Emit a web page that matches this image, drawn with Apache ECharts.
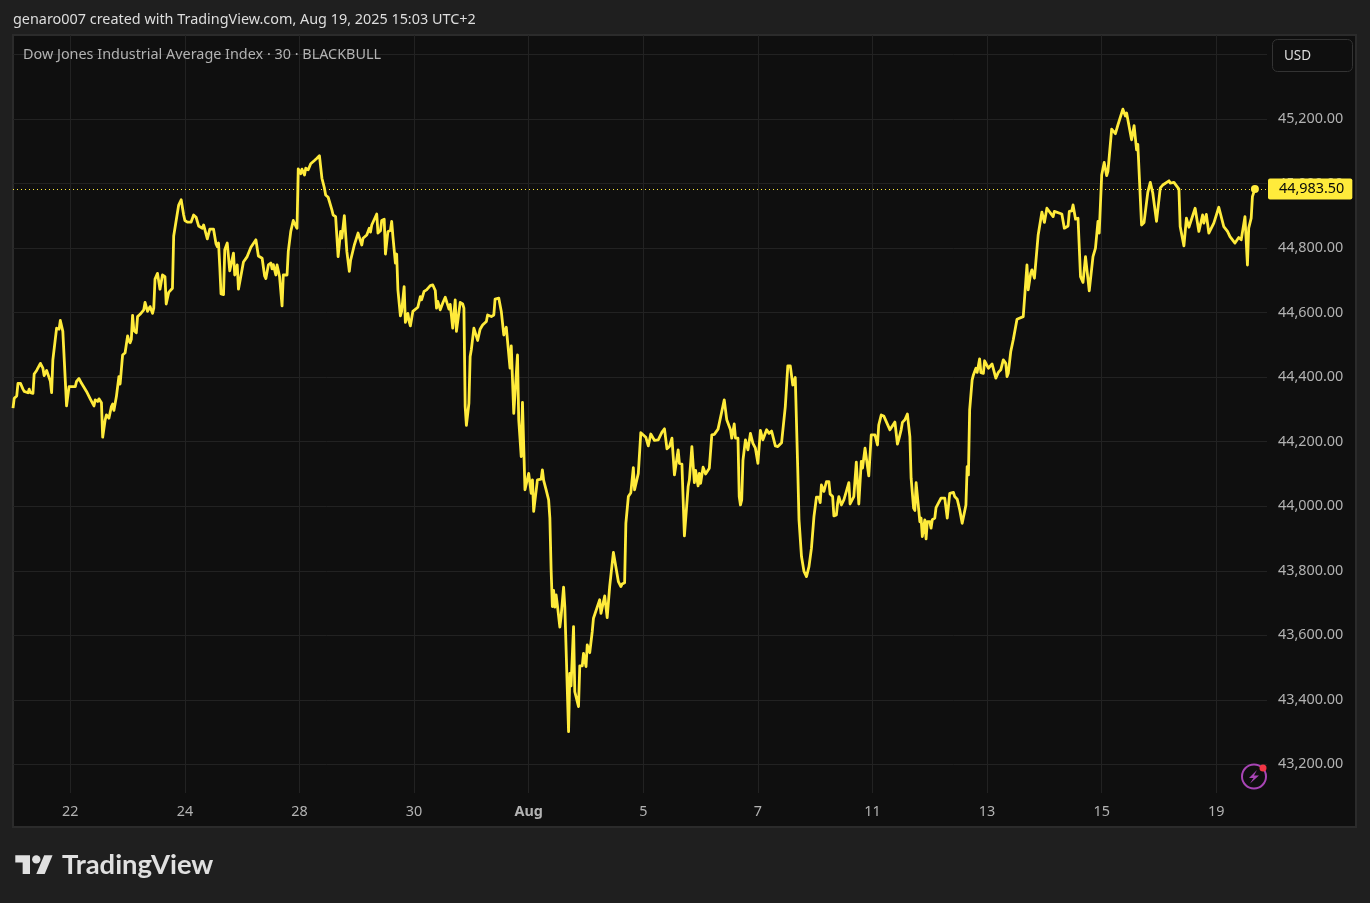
<!DOCTYPE html>
<html>
<head>
<meta charset="utf-8">
<title>Dow Jones Industrial Average Index</title>
<style>
  html,body{margin:0;padding:0;background:#1f1f1f;}
  #chart{width:1370px;height:903px;}
</style>
<script src="https://cdn.jsdelivr.net/npm/echarts@6/dist/echarts.min.js"></script>
</head>
<body>
<div id="chart"></div>
<script>
// 30 minute bars, counted from the left edge of the chart
var bars=[0,1,3,4,6,8,9,10,12,13,14,16,17,19,22,24,25,27,28,30,31,32,35,37,38,40,41,43,45,46,50,51,53,55,56,59,62,63,65,66,68,69,71,72,74,75,77,79,80,81,83,85,86,87,88,90,92,93,94,95,96,97,98,99,100,102,103,105,106,107,108,110,112,113,114,116,118,120,122,123,125,128,129,130,133,135,137,138,140,143,145,147,149,150,152,153,156,158,161,163,164,165,166,167,169,170,172,174,177,178,180,181,182,185,186,188,191,195,197,200,202,203,205,207,208,209,211,212,214,216,217,220,221,223,225,227,228,229,231,232,234,235,237,239,242,244,246,248,250,251,253,256,257,259,261,263,264,266,268,270,271,272,274,277,280,281,284,286,287,288,292,293,295,296,298,299,300,301,303,304,305,306,307,308,309,311,312,314,315,317,318,319,321,325,
327,328,330,332,335,337,339,340,341,343,345,347,348,350,351,353,355,356,357,359,361,362,363,364,366,367,368,370,371,373,375,377,380,381,384,386,387,390,392,393,394,396,397,399,400,402,405,406,408,409,411,414,416,417,418,421,424,425,426,428,430,431,432,433,434,435,436,437,439,440,442,443,444,446,447,448,449,450,451,454,455,457,458,460,461,463,465,466,471,472,475,477,479,480,482,483,486,488,489,491,492,494,495,496,498,499,500,502,504,508,510,512,515,518,521,523,525,527,529,531,534,535,537,539,542,543,545,547,548,550,551,552,554,556,559,561,563,566,569,571,573,576,577,579,580,582,583,584,585,586,588,590,592,594,596,597,598,600,602,605,607,609,612,614,617,620,622,624,626,627,628,630,631,633,634,635,637,639,641,643,645,647,
648,649,651,653,655,656,658,659,661,662,663,665,667,669,671,672,675,677,679,681,682,684,685,687,689,692,694,695,697,699,704,705,708,710,711,713,714,716,718,720,721,723,724,725,728,729,730,732,733,734,736,737,738,740,741,742,745,748,750,751,752,755,756,758,760,761,762,763,765,766,767,768,770,771,773,774,776,777,779,780,781,783,786,789,790,791,793,795,797,798,799,801,803,
806,811,812,814,815,817,818,820,821,823,824,826,828,830,831,835,836,842,844,845,847,848,850,851,853,855,856,857,859,861,864,865,867,869,871,872,874,876,878,879,882,883,885,887,891,893,894,898,900,902,903,904,906,908,911,913,915,918,919,921,923,928,929,932,936,937,940,941,942,944,945,949,950,952,953,955,956,958,960,964,965,968,969,972,973,975,977,978,981,984,986,989,990,991,992,994,995,997];
var closes=[44304,44335,44342,44381,44381,44363,44356,44358,44352,44363,44352,44350,44410,44421,44443,44428,44405,44421,44418,44387,44352,44454,44552,44549,44576,44542,44542,44311,44371,44373,44371,44387,44396,44381,44379,44356,44333,44330,44311,44330,44325,44333,44321,44214,44268,44283,44273,44309,44317,44297,44340,44402,44379,44381,44469,44476,44528,44514,44507,44518,44592,44545,44547,44538,44588,44595,44593,44609,44632,44634,44604,44619,44598,44614,44704,44722,44673,44717,44712,44627,44663,44676,44838,44841,44934,44950,44903,44886,44881,44881,44903,44896,44869,44869,44862,44872,44829,44859,44859,44813,44805,44816,44743,44658,44656,44795,44816,44730,44785,44717,44748,44673,44669,44757,44751,44774,44803,44826,44776,44769,44714,44706,44748,44754,44736,44749,44717,44748,44712,44621,44717,44717,44790,44852,44886,44869,44862,45046,45031,45045,45027,45048,45043,45062,45072,45079,45087,45017,44986,44965,44958,44919,44903,44898,44774,44852,44831,44901,44790,44728,44762,44759,44810,44847,44810,44831,44841,44862,44850,44872,44906,44847,44854,44886,44890,44782,44785,44852,44855,44883,44836,44836,44754,44782,44671,44590,44604,44681,44570,44598,44573,44559,44604,44617,
44650,44640,44666,44671,44684,44686,44669,44614,44635,44609,44630,44648,44648,44611,44626,44552,44640,44542,44547,44632,44627,44614,44309,44251,44319,44464,44487,44552,44547,44514,44549,44562,44573,44593,44588,44593,44642,44645,44604,44609,44531,44555,44557,44428,44497,44288,44469,44268,44154,44322,44051,44102,44040,44082,43984,44082,44084,44113,44080,44051,44020,43963,43803,43689,43739,43687,43725,43694,43625,43658,43749,43689,43689,43301,43482,43443,43443,43627,43425,43379,43505,43505,43544,43503,43570,43546,43611,43653,43710,43668,43722,43655,43751,43756,43857,43856,43766,43751,43759,43763,43947,44030,44030,44042,44120,44051,44056,44102,44228,44214,44187,44224,44204,44206,44230,44240,44178,44185,44211,44097,44175,44133,44131,43908,44061,44082,44185,44073,44111,44063,44102,44071,44121,44100,44118,44221,44223,44239,44294,44330,44268,44237,44211,44255,44211,44211,44030,44004,44020,44142,44206,44175,44226,44195,44180,44175,44133,44235,44206,44237,44226,44233,44187,44185,44197,44309,44435,44435,44376,44373,44399,44113,43958,43844,43839,43798,43782,43813,43870,43968,44028,44028,
44011,44066,44046,44076,44076,44038,44030,43970,43973,44009,44030,44004,44020,44046,44073,44007,44030,44137,44007,44139,44118,44180,44185,44094,44221,44221,44190,44252,44283,44280,44237,44242,44261,44193,44206,44237,44260,44268,44286,44216,44087,43994,43987,44073,43952,43963,43906,43958,43899,43952,43952,43932,43958,43963,43996,43994,44025,44025,43963,43961,44040,44043,44030,44022,43989,43983,43947,43944,44004,44123,44097,44299,44392,44407,44428,44415,44457,44414,44412,44451,44449,44428,44441,44397,44395,44415,44423,44454,44443,44402,44412,44480,44516,
44580,44588,44593,44748,44671,44722,44733,44707,44704,44841,44844,44912,44880,44924,44924,44898,44914,44906,44862,44857,44869,44914,44916,44934,44890,44893,44893,44712,44694,44774,44668,44671,44774,44800,44883,44847,45027,45066,45025,45038,45169,45172,45155,45182,45231,45210,45219,45136,45180,45105,45122,45120,44872,44880,44973,45004,44971,44883,44883,44986,44996,45009,45002,45004,44983,44867,44807,44810,44893,44865,44869,44924,44926,44852,44852,44903,44878,44905,44847,44878,44883,44927,44921,44867,44872,44852,44836,44841,44816,44833,44826,44898,44903,44748,44862,44893,44960,44983.5];

var tickBars=[46,138,230,322,414,506,598,690,782,874,966];
var tickLabels=['22','24','28','30','Aug','5','7','11','13','15','19'];
var priceGrid=[43200,43400,43600,43800,44000,44200,44400,44600,44800,45000,45200,45400];
var priceLabels=[43200,43400,43600,43800,44000,44200,44400,44600,44800,45000,45200];
var lastPrice=44983.5;
var titleText='Dow Jones Industrial Average Index · 30 · BLACKBULL';
var headerText='genaro007 created with TradingView.com, Aug 19, 2025 15:03 UTC+2';

var FONT='"Noto Sans"';
var FONT_SIZE=14.4;
var YELLOW='#ffeb3b';

function money(v){
  return v.toFixed(2).replace(/\B(?=(\d{3})+\.)/g,',');
}

var lineData=[];
for(var i=0;i<bars.length;i++){
  lineData.push([bars[i],closes[i]]);
}

var myChart=echarts.init(document.getElementById('chart'),null,{renderer:'canvas'});
var option={
  backgroundColor:'#1f1f1f',
  animation:false,
  textStyle:{fontFamily:FONT},
  grid:{left:13,right:103,top:35,bottom:110,containLabel:false},
  xAxis:{
    type:'value',
    min:0,
    max:1006.7,
    axisLine:{show:false},
    axisTick:{show:false,customValues:tickBars},
    splitLine:{show:true,lineStyle:{color:'#222222',width:1}},
    axisLabel:{
      customValues:tickBars,
      margin:12,
      fontFamily:FONT,
      fontSize:FONT_SIZE,
      color:'#b2b2b2',
      formatter:function(v){
        var t=tickLabels[tickBars.indexOf(v)];
        return t==='Aug'?'{b|Aug}':t;
      },
      rich:{b:{fontFamily:FONT,fontSize:FONT_SIZE,fontWeight:'bold',color:'#b2b2b2'}}
    }
  },
  yAxis:{
    type:'value',
    position:'right',
    min:43111,
    max:45461,
    axisLine:{show:false},
    axisTick:{show:false,customValues:priceGrid},
    splitLine:{show:true,lineStyle:{color:'#222222',width:1}},
    axisLabel:{
      customValues:priceLabels,
      margin:11,
      fontFamily:FONT,
      fontSize:FONT_SIZE,
      color:'#b2b2b2',
      formatter:function(v){return money(v);}
    }
  },
  series:[
    {
      type:'line',
      data:lineData,
      showSymbol:false,
      symbol:'none',
      lineStyle:{color:YELLOW,width:2.8,join:'round'},
      z:3,
      clip:true,
      markLine:{
        silent:true,
        symbol:'none',
        animation:false,
        lineStyle:{color:YELLOW,type:[1,3],width:1},
        label:{
          show:true,
          position:'end',
          distance:1,
          formatter:function(){return money(lastPrice);},
          fontFamily:FONT,
          fontSize:FONT_SIZE,
          lineHeight:18,
          color:'#0a0a0a',
          backgroundColor:YELLOW,
          borderRadius:2,
          padding:[2,8,1,11]
        },
        data:[{yAxis:lastPrice}]
      }
    },
    {
      type:'scatter',
      data:[[bars[bars.length-1],lastPrice]],
      symbolSize:8,
      itemStyle:{color:YELLOW,opacity:1},
      silent:true,
      z:4
    }
  ],
  graphic:[
    // chart frame behind the plot
    {type:'rect',z:-10,shape:{x:13,y:35,width:1343,height:792},style:{fill:'#0f0f0f',stroke:'#2b2b2b',lineWidth:2}},
    {type:'text',z:10,left:13,top:13,style:{text:headerText,font:FONT_SIZE+'px '+FONT,fill:'#dedede'}},
    {type:'text',z:10,left:23,top:48,style:{text:titleText,font:FONT_SIZE+'px '+FONT,fill:'#b2b2b2'}},
    // currency button
    {type:'rect',z:5,shape:{x:1272.5,y:39.5,width:80,height:32,r:5},style:{fill:'#0f0f0f',stroke:'#333333',lineWidth:1}},
    {type:'text',z:6,left:1284,top:49,style:{text:'USD',font:'13.5px '+FONT,fill:'#dedede'}},
    // lightning badge
    {type:'circle',z:5,shape:{cx:1254,cy:776.5,r:12},style:{fill:'none',stroke:'#a845b5',lineWidth:2}},
    {type:'polygon',z:5,shape:{points:[[1257,770],[1249,778],[1253.5,778],[1250,783.5],[1259,775.5],[1254,775.5]]},style:{fill:'#a845b5'}},
    {type:'circle',z:6,shape:{cx:1263,cy:768,r:3.5},style:{fill:'#f23645'}},
    // TradingView logo
    {type:'group',x:15.3,y:851,scaleX:1.05,scaleY:1.05,children:[
      {type:'polygon',shape:{points:[[14,22],[7,22],[7,11],[0,11],[0,4],[14,4]]},style:{fill:'#e0e0e0'}},
      {type:'polygon',shape:{points:[[28,22],[20,22],[27.5,4],[35.5,4]]},style:{fill:'#e0e0e0'}},
      {type:'circle',shape:{cx:20,cy:8,r:4},style:{fill:'#e0e0e0'}}
    ]},
    {type:'text',left:62,top:852,style:{text:'TradingView',font:'bold 27.4px Lato',fill:'#e0e0e0'}}
  ]
};
myChart.setOption(option);
</script>
</body>
</html>
